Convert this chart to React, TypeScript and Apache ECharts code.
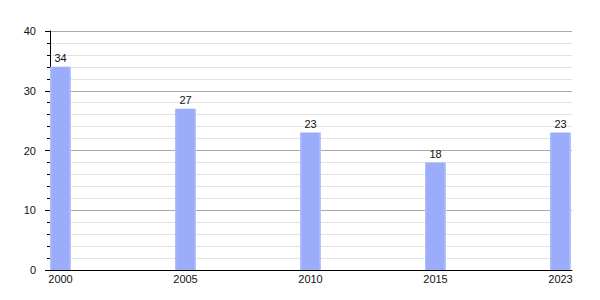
import React, { useEffect, useRef } from "react";
import * as echarts from "echarts";

const years = ["2000", "2005", "2010", "2015", "2023"];
const values = [34, 27, 23, 18, 23];
const yTicks = [0, 10, 20, 30, 40];

export default function App() {
  const ref = useRef<HTMLDivElement>(null);
  useEffect(() => {
    if (!ref.current) return;
    const chart = echarts.init(ref.current, undefined, { renderer: "svg" });
    const font = "'Liberation Sans', Arial, sans-serif";
    chart.setOption({
      animation: false,
      grid: { left: 50, right: 28, top: 31, bottom: 30 },
      xAxis: {
        type: "value",
        min: -0.084,
        max: 4.092,
        axisLine: { show: true, onZero: false, lineStyle: { color: "#000", width: 1 } },
        axisTick: { show: false },
        splitLine: { show: false },
        axisLabel: {
          customValues: years.map((_, i) => i),
          formatter: (v: number) => years[Math.round(v)],
          color: "#111",
          fontFamily: font,
          fontSize: 11,
          margin: 3,
          showMinLabel: true,
          showMaxLabel: true,
        },
      },
      yAxis: {
        type: "value",
        min: yTicks[0],
        max: yTicks[yTicks.length - 1],
        interval: 10,
        axisLine: { show: true, onZero: false, lineStyle: { color: "#000", width: 1 } },
        axisTick: { show: true, length: 5, lineStyle: { color: "#000" } },
        minorTick: { show: true, splitNumber: 5, length: 3, lineStyle: { color: "#000" } },
        splitLine: { show: true, lineStyle: { color: "#aaa", width: 1 } },
        minorSplitLine: { show: true, lineStyle: { color: "#e2e2e2", width: 1 } },
        axisLabel: {
          color: "#111",
          fontFamily: font,
          fontSize: 11,
          margin: 14,
        },
      },
      series: [
        {
          type: "bar",
          data: values.map((v, i) => [i, v]),
          barWidth: 21,
          itemStyle: {
            color: new echarts.graphic.LinearGradient(0, 0, 1, 0, [
              { offset: 0, color: "#b4c2fb" },
              { offset: 0.1, color: "#9aacfa" },
              { offset: 0.88, color: "#9aacfa" },
              { offset: 1, color: "#bccafc" },
            ]),
          },
          label: {
            show: true,
            position: "top",
            distance: 3,
            color: "#111",
            fontFamily: font,
            fontSize: 11,
          },
        },
      ],
    });
    return () => chart.dispose();
  }, []);
  return <div ref={ref} style={{ width: 600, height: 300, position: "absolute", left: 0, top: 0 }} />;
}
